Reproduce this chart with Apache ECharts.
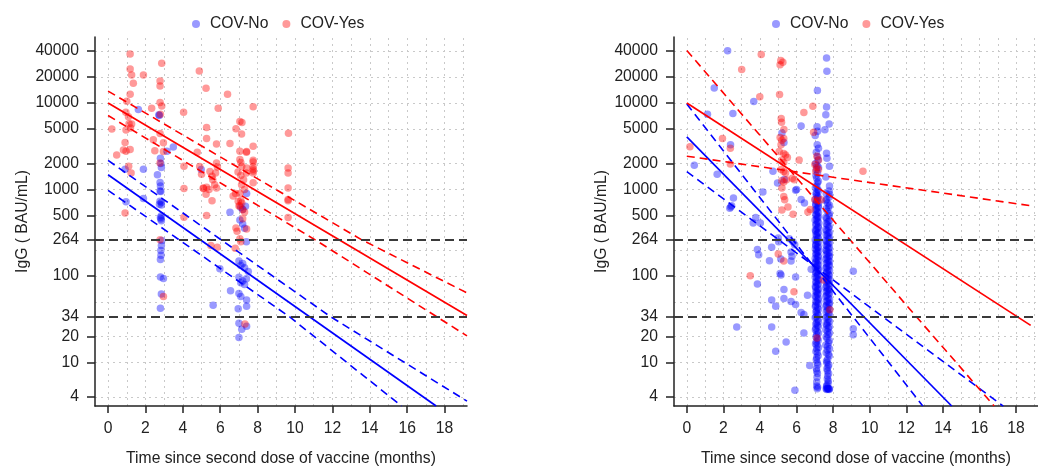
<!DOCTYPE html>
<html>
<head>
<meta charset="utf-8">
<script src="https://cdn.jsdelivr.net/npm/echarts@6/dist/echarts.min.js"></script>
<style>
html,body{margin:0;padding:0;background:#fff;}
#chart{width:1038px;height:472px;}
</style>
</head>
<body>
<div id="chart"></div>
<script>
// ---------- tick labels / grid values ----------
const xTicks = [0, 2, 4, 6, 8, 10, 12, 14, 16, 18];
const yTicks = [4, 10, 20, 34, 100, 264, 500, 1000, 2000, 5000, 10000, 20000, 40000];
const xGridLines = [0,1,2,3,4,5,6,7,8,9,10,11,12,13,14,15,16,17,18,19];
const yGridLines = [4, 10, 20, 50, 100, 200, 500, 1000, 2000, 5000, 10000, 20000, 40000];
const thresholds = [34, 264];
const legendNames = ['COV-No', 'COV-Yes'];

// ---------- left panel data [months, IgG] ----------
const leftNo = [
  [1.62,8380],[2.74,7160],[2.72,7300],[3.49,3100],[3.15,2770],[2.8,2300],[2.82,2000],[2.85,1800],[1.89,1720],
  [0.91,1720],[2.64,1480],[4.98,1710],[2.78,1210],[2.8,1100],[2.78,964],[2.82,950],[2.78,735],[2.75,676],
  [0.96,721],[1.89,790],[2.85,710],[2.85,662],[2.85,499],[2.8,475],[2.82,457],[2.85,437],[2.87,258],
  [2.85,226],[2.82,198],[2.83,174],[2.8,156],[2.8,98],[2.96,94],[2.85,62],[2.8,42.5],
  [6.52,546],[7.2,590],[7.1,620],[7.35,640],[7.41,900],[7.05,445],[7.2,400],[7.3,357],[7.4,250],
  [7.0,150],[7.2,140],[7.1,133],[7.3,125],[7.5,113],[7.0,97],[7.2,88],[7.4,93],[7.1,84],[7.3,80],
  [6.55,68],[7.0,63],[7.1,58],[7.41,53],[7.41,45],[6.96,42],[7.0,28.6],[7.41,26.3],[7.15,24.4],[7.0,19.6],
  [5.98,122],[5.62,46]
];
const leftYes = [
  [1.18,36700],[2.87,28700],[1.18,24700],[1.26,21100],[1.89,21100],[4.88,23400],[1.35,16900],[2.78,17900],
  [2.78,15700],[5.24,14800],[6.39,12600],[1.18,12600],[1.0,10500],[2.78,10100],[2.33,8700],[2.87,9240],
  [5.89,8700],[7.76,9050],[4.04,7810],[2.8,7400],[1.09,6920],[0.95,7800],[7.05,6100],[7.16,5950],[1.26,5700],
  [1.12,5750],[1.2,5130],[0.2,5000],[0.96,4860],[5.27,5210],[6.84,5050],[2.78,4450],[5.27,3900],[7.14,4370],
  [2.42,3770],[0.91,3500],[2.96,3480],[5.8,3360],[6.52,3400],[7.76,3160],[0.82,2870],[1.18,2900],[0.96,2770],
  [2.96,2750],[2.5,2800],[0.46,2500],[4.77,2700],[7.41,2750],[7.05,2770],[7.4,2700],[5.8,2020],[5.85,1820],
  [5.75,1550],[7.05,2220],[7.1,2050],[7.15,1860],[7.76,2180],[7.76,2080],[7.76,1850],[7.76,1720],[7.76,1640],
  [2.78,2020],[4.06,1860],[1.23,1550],[1.1,1860],[5.45,1620],[5.56,1420],[5.6,1300],[5.7,1140],[5.8,1040],
  [4.9,1850],[5.0,1500],[5.09,1040],[5.1,1030],[5.27,1060],[5.4,1000],[4.06,1030],[6.95,1600],[7.1,1450],
  [7.25,1300],[7.4,1550],[7.3,1000],[7.05,900],[6.82,900],[6.69,845],[6.96,735],[7.1,740],[7.15,700],
  [7.0,645],[7.05,650],[5.56,740],[5.27,500],[0.91,535],[9.65,4480],[9.63,1770],[9.63,1550],[9.63,1040],
  [9.63,770],[9.63,740],[9.63,475],[7.76,1550],[7.76,1200],[7.41,1770],[7.14,1140],[5.24,880],[4.06,480],
  [7.2,590],[7.3,550],[6.84,360],[7.41,350],[6.9,330],[7.2,460],[5.5,226],[5.84,216],[6.8,210],[7.05,270],
  [7.1,250],[2.78,264],[2.96,58],[7.32,28]
];

// ---------- right panel data [months, IgG] ----------
const rightNo = [
  [2.23,40000],[1.5,14900],[3.66,10400],[1.13,7420],[2.52,7550],[6.25,5430],[2.39,3300],[5.31,3500],
  [5.2,4500],[0.41,1910],[1.66,1500],[4.71,1630],[4.96,1190],[5.33,1310],[6.0,1000],[5.95,980],[4.16,940],
  [6.25,770],[6.43,700],[2.55,800],[2.4,630],[2.35,610],[2.45,650],[3.77,477],[4.02,410],[3.63,411],
  [3.86,203],[3.93,177],[4.52,151],[4.64,216],[5.0,275],[5.02,250],[5.14,158],[5.1,107],[5.15,103],
  [5.95,98],[3.86,81],[5.31,70],[4.64,53],[4.86,45],[5.31,55],[5.7,51],[5.95,47],[6.25,38],[6.4,36],
  [2.73,25.8],[4.64,25.8],[6.4,22],[5.43,17.4],[4.86,13.6],[6.72,9.3],[5.91,4.8],[9.1,114],[9.1,24.6],
  [9.1,21],[5.7,190],[5.75,170],[5.7,150],[5.6,270],[5.8,250],[5.9,230],[6.6,60],[6.8,120]
];
const rightNoColA = [
  [7.14,13900],[7.12,5300],[7.15,4700],[7.13,3300],[7.15,2400],[7.12,1900],[7.08,1700],[7.15,1550],
  [7.1,1350],[7.14,1200],[7.1,1100],[7.16,1000],[7.08,920],[7.12,850],[7.15,790],[7.1,730],[7.05,680],
  [7.18,640],[7.1,600],[7.13,560],[7.07,520],[7.16,490],[7.1,460],[7.14,430],[7.08,400],[7.18,375],
  [7.11,350],[7.05,330],[7.15,310],[7.1,290],[7.17,272],[7.08,255],[7.13,240],[7.05,226],[7.16,213],
  [7.1,200],[7.14,188],[7.07,177],[7.18,166],[7.11,156],[7.05,147],[7.15,138],[7.09,130],[7.17,122],
  [7.12,115],[7.06,108],[7.15,101],[7.1,95],[7.18,89],[7.08,84],[7.13,79],[7.05,74],[7.16,69],[7.1,65],
  [7.14,61],[7.07,57],[7.17,53],[7.11,50],[7.05,46],[7.15,43],[7.09,40],[7.13,37],[7.07,34],[7.16,31.5],
  [7.1,29],[7.14,27],[7.06,25],[7.12,23],[7.1,21],[7.15,19],[7.08,17.5],[7.12,16],[7.1,14.5],[7.14,13],
  [7.1,11.5],[7.13,10],[7.09,8.5],[7.12,6.8],[7.1,5.4],[7.13,5.0]
];
const rightNoColA2 = [
  [7.02,4200],[7.2,3000],[7.08,2700],[7.18,2200],[7.04,2000],[7.2,1800],[7.06,1450],[7.19,1250],
  [7.03,1050],[7.2,960],[7.07,880],[7.18,820],[7.02,760],[7.2,700],[7.05,660],[7.19,620],[7.03,580],
  [7.2,540],[7.06,505],[7.18,475],[7.02,445],[7.2,415],[7.05,390],[7.19,362],[7.03,340],[7.2,320],
  [7.06,300],[7.18,280],[7.02,264],[7.2,248],[7.05,232],[7.19,219],[7.03,206],[7.2,194],[7.06,182],
  [7.18,171],[7.02,160],[7.2,151],[7.05,142],[7.19,134],[7.03,126],[7.2,118],[7.06,111],[7.18,104],
  [7.02,98],[7.2,92],[7.05,86],[7.19,81],[7.03,76],[7.2,71],[7.06,67],[7.18,63],[7.02,59],[7.2,55],
  [7.05,51],[7.19,48],[7.03,44.5],[7.2,41.5],[7.06,38.5],[7.18,35.5],[7.02,33],[7.2,30],[7.05,28],
  [7.19,26],[7.03,24],[7.2,22],[7.06,20],[7.18,18],[7.04,16.5],[7.2,15],[7.06,13.5],[7.18,12],
  [7.08,10.8],[7.16,9.5],[7.1,8],[7.14,7.5],[7.1,6],[7.15,5.2]
];
const rightNoColB = [
  [7.64,33000],[7.66,23300],[7.64,9000],[7.6,7300],[7.78,5700],[7.55,4900],[7.64,2630],[7.66,2300],
  [7.8,1860],[7.78,960],[7.8,880],[7.64,770],[7.7,700],[7.76,630],[7.68,560],[7.78,500],[7.65,460],
  [7.72,425],[7.68,390],[7.75,360],[7.66,335],[7.73,310],[7.69,290],[7.77,270],[7.65,252],[7.72,236],
  [7.68,221],[7.76,207],[7.64,195],[7.71,183],[7.78,172],[7.67,162],[7.74,152],[7.69,143],[7.77,135],
  [7.65,127],[7.72,119],[7.68,112],[7.75,105],[7.66,99],[7.73,93],[7.69,87],[7.77,82],[7.64,77],
  [7.71,72],[7.68,68],[7.76,64],[7.66,60],[7.73,56],[7.69,52],[7.78,49],[7.65,46],[7.72,43],[7.68,40],
  [7.75,37],[7.67,34],[7.73,31.5],[7.7,29],[7.66,27],[7.74,25],[7.69,23],[7.72,21],[7.67,19],[7.75,17],
  [7.7,15.5],[7.68,14],[7.73,12.5],[7.7,11],[7.66,10],[7.72,9],[7.69,8],[7.7,7],[7.74,6.2],[7.66,5.5],
  [7.7,5.0],[7.75,5.0],[7.65,4.9],[7.8,5.0],[7.68,5.1]
];
const rightNoColB2 = [
  [7.6,1400],[7.8,1100],[7.62,900],[7.79,820],[7.6,740],[7.8,660],[7.62,600],[7.79,530],[7.6,480],
  [7.8,440],[7.62,405],[7.79,375],[7.6,345],[7.8,320],[7.62,300],[7.79,280],[7.6,260],[7.8,243],
  [7.62,228],[7.79,214],[7.6,200],[7.8,188],[7.62,177],[7.79,167],[7.6,157],[7.8,148],[7.62,140],
  [7.79,131],[7.6,123],[7.8,116],[7.62,109],[7.79,102],[7.6,96],[7.8,90],[7.62,85],[7.79,79],[7.6,74],
  [7.8,70],[7.62,66],[7.79,62],[7.6,58],[7.8,54],[7.62,51],[7.79,47.5],[7.6,44.5],[7.8,41.5],[7.62,38.5],
  [7.79,36],[7.6,33],[7.8,30],[7.62,28],[7.79,26],[7.6,24],[7.8,22],[7.62,20],[7.79,18],[7.6,16],
  [7.8,14.5],[7.62,13],[7.79,12],[7.64,10.5],[7.76,9.5],[7.66,8.5],[7.75,7.5],[7.68,6.5],[7.72,5.8],
  [7.64,5.3],[7.72,5.0],[7.62,5.0],[7.78,4.9]
];
const rightYes = [
  [4.07,36200],[3.0,24400],[5.14,31000],[5.25,29500],[5.1,27700],[3.99,11800],[5.07,12500],[6.89,9170],
  [6.4,7740],[5.16,6600],[5.18,6000],[5.31,4940],[6.93,4600],[1.95,3900],[2.38,3000],[0.17,3130],
  [5.1,4000],[5.2,3700],[5.3,3900],[5.15,3300],[5.05,2750],[5.3,2600],[5.4,2500],[5.5,2350],[5.2,2200],
  [5.3,2050],[6.14,2200],[2.38,1970],[5.15,1700],[5.3,1620],[5.4,1550],[5.77,1350],[5.87,1300],[5.2,1270],
  [5.3,1220],[5.45,1300],[5.2,1040],[5.3,830],[5.35,760],[5.53,630],[5.2,580],[5.81,518],[7.11,2430],
  [7.2,2200],[7.0,1950],[7.1,1800],[7.05,1620],[7.2,1710],[7.0,770],[7.15,740],[7.35,760],[6.62,550],
  [6.75,590],[9.63,1630],[3.47,101],[5.0,180],[5.3,150],[5.86,66],[7.47,90],[7.82,41],[7.11,19.3]
];

// ---------- fitted lines and bands [months, IgG] ----------
const leftNoFit   = [[0,1485],[17.55,3.16]];
const leftNoUp    = [[0,2170],[11.9,34],[19.2,3.6]];
const leftNoLow   = [[0,980],[9.7,34],[15.7,3.16]];
const leftYesFit  = [[0,10000],[19.2,35]];
const leftYesUp   = [[0,13700],[13.55,264],[19.2,64]];
const leftYesLow  = [[0,7160],[11.06,264],[19.2,20.4]];

const rightNoFit  = [[0,4050],[14.48,3.16]];
const rightNoA    = [[0,9750],[12.9,3.16]];
const rightNoB    = [[0,1610],[17.3,3.16]];
const rightYesFit = [[0,10000],[18.8,27]];
const rightYesA   = [[0,2430],[18.8,650]];
const rightYesB   = [[0,40400],[12.55,34],[16.8,3.16]];

// ---------- build ----------
const FONT = 'Liberation Sans, Arial, sans-serif';
const TXT = '#222';
const BLUE = '#0000ff', RED = '#ff0000';
const BLUE_PT = 'rgba(0,0,255,0.5)', RED_PT = 'rgba(255,0,0,0.5)';
const lg = pairs => pairs.map(p => [p[0], Math.log10(p[1])]);

function makeX(i) {
  return {
    type: 'value', gridIndex: i, min: -0.7, max: 19.2,
    name: 'Time since second dose of vaccine (months)',
    nameLocation: 'middle', nameGap: 45,
    nameTextStyle: { fontFamily: FONT, fontSize: 15.7, color: TXT },
    axisLine: { show: true, onZero: false, lineStyle: { color: '#222', width: 1.5 } },
    axisTick: { show: true, customValues: xTicks, length: 7, inside: false, lineStyle: { color: '#222', width: 1.5 } },
    axisLabel: { customValues: xTicks, margin: 15, fontFamily: FONT, fontSize: 15.7, color: TXT },
    splitLine: { show: false }
  };
}
function makeY(i) {
  return {
    type: 'value', gridIndex: i, min: 0.5, max: 4.762,
    name: 'IgG ( BAU/mL)',
    nameLocation: 'middle', nameGap: 64, nameRotate: 90,
    nameTextStyle: { fontFamily: FONT, fontSize: 15.7, color: TXT },
    axisLine: { show: true, onZero: false, lineStyle: { color: '#222', width: 1.5 } },
    axisTick: { show: true, customValues: yTicks.map(Math.log10), length: 8, lineStyle: { color: '#222', width: 1.5 } },
    axisLabel: {
      customValues: yTicks.map(Math.log10), margin: 16,
      fontFamily: FONT, fontSize: 15.7, color: TXT,
      formatter: v => String(Math.round(Math.pow(10, v)))
    },
    splitLine: { show: false }
  };
}

function gridSeries(i) {
  return {
    type: 'line', name: 'grid' + i, xAxisIndex: i, yAxisIndex: i, data: [], silent: true, z: 0,
    markLine: {
      silent: true, symbol: ['none', 'none'], label: { show: false }, z: 0,
      lineStyle: { color: '#c9c9c9', width: 1, type: [2, 4] },
      emphasis: { disabled: true },
      data: xGridLines.map(v => ({ xAxis: v })).concat(yGridLines.map(v => ({ yAxis: Math.log10(v) })))
    }
  };
}
function thresholdSeries(i) {
  return {
    type: 'line', name: 'thr' + i, xAxisIndex: i, yAxisIndex: i, data: [], silent: true, z: 6,
    markLine: {
      silent: true, symbol: ['none', 'none'], label: { show: false }, z: 6,
      lineStyle: { color: '#3a3a3a', width: 2, type: [9, 5] },
      emphasis: { disabled: true },
      data: thresholds.map(v => ({ yAxis: Math.log10(v) }))
    }
  };
}
function scatter(name, i, data, color) {
  return {
    type: 'scatter', name, xAxisIndex: i, yAxisIndex: i, data: lg(data),
    symbol: 'circle', symbolSize: 7.5, itemStyle: { color, borderWidth: 0 }, z: 2, silent: true
  };
}
function fitLine(id, i, data, color, dashed) {
  return {
    type: 'line', name: id, xAxisIndex: i, yAxisIndex: i, data: lg(data), symbol: 'none',
    clip: true, silent: true, z: 4,
    lineStyle: { color, width: dashed ? 1.6 : 1.7, type: dashed ? [8, 5] : 'solid' }
  };
}

const option = {
  animation: false,
  backgroundColor: '#ffffff',
  textStyle: { fontFamily: FONT },
  grid: [
    { left: 95, top: 37, width: 372, height: 372, containLabel: false },
    { left: 674, top: 37, width: 372, height: 372, containLabel: false }
  ],
  legend: [
    { data: legendNames, left: 187, top: 11, icon: 'circle', itemWidth: 18, itemHeight: 8, itemGap: 14,
      textStyle: { fontFamily: FONT, fontSize: 15.7, color: TXT }, selectedMode: false },
    { data: legendNames, left: 767, top: 11, icon: 'circle', itemWidth: 18, itemHeight: 8, itemGap: 14,
      textStyle: { fontFamily: FONT, fontSize: 15.7, color: TXT }, selectedMode: false }
  ],
  xAxis: [makeX(0), makeX(1)],
  yAxis: [makeY(0), makeY(1)],
  series: [
    gridSeries(0), gridSeries(1),
    scatter('COV-No', 0, leftNo, BLUE_PT),
    scatter('COV-Yes', 0, leftYes, RED_PT),
    scatter('COV-No', 1, rightNo.concat(rightNoColA, rightNoColA2, rightNoColB, rightNoColB2), BLUE_PT),
    scatter('COV-Yes', 1, rightYes, RED_PT),
    fitLine('lnf', 0, leftNoFit, BLUE, false),
    fitLine('lnu', 0, leftNoUp, BLUE, true),
    fitLine('lnl', 0, leftNoLow, BLUE, true),
    fitLine('lyf', 0, leftYesFit, RED, false),
    fitLine('lyu', 0, leftYesUp, RED, true),
    fitLine('lyl', 0, leftYesLow, RED, true),
    fitLine('rnf', 1, rightNoFit, BLUE, false),
    fitLine('rna', 1, rightNoA, BLUE, true),
    fitLine('rnb', 1, rightNoB, BLUE, true),
    fitLine('ryf', 1, rightYesFit, RED, false),
    fitLine('rya', 1, rightYesA, RED, true),
    fitLine('ryb', 1, rightYesB, RED, true),
    thresholdSeries(0), thresholdSeries(1)
  ]
};

const chart = echarts.init(document.getElementById('chart'), null, { renderer: 'canvas' });
chart.setOption(option);
</script>
</body>
</html>
